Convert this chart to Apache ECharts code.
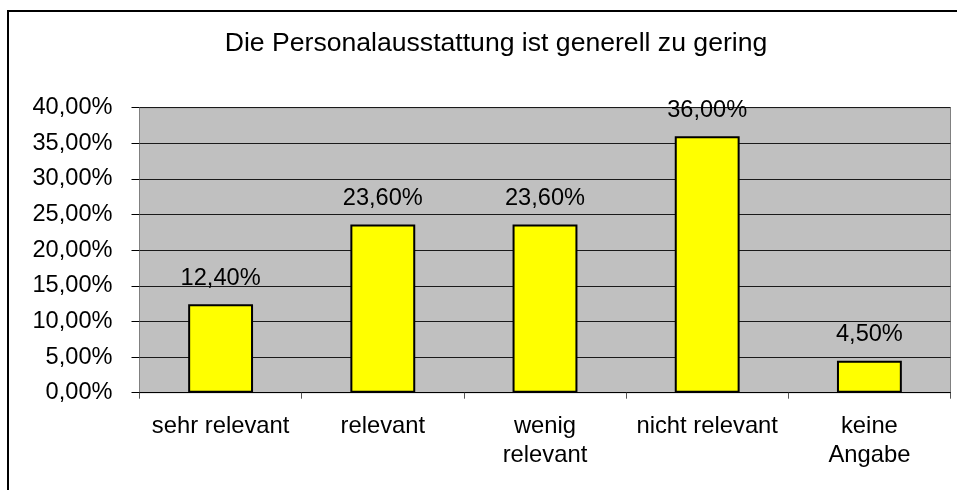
<!DOCTYPE html>
<html>
<head>
<meta charset="utf-8">
<script src="https://cdn.jsdelivr.net/npm/echarts@6/dist/echarts.min.js"></script>
<style>
  html, body { margin: 0; padding: 0; background: #fff; }
  #chart { width: 957px; height: 490px; }
</style>
</head>
<body>
<div id="chart"></div>
<script>
const titleText = "Die Personalausstattung ist generell zu gering";
const categories = ["sehr relevant", "relevant", "wenig\nrelevant", "nicht relevant", "keine\nAngabe"];
const values = [12.4, 23.6, 23.6, 36.0, 4.5];
const yMin = 0;
const yMax = 40;
const yStep = 5;

const font = "Liberation Sans, Arial, sans-serif";

function pct(v) {
  return v.toFixed(2).replace(".", ",") + "%";
}

const chart = echarts.init(document.getElementById("chart"));

chart.setOption({
  animation: false,
  backgroundColor: "#fff",
  textStyle: { fontFamily: font },
  title: {
    text: titleText,
    left: 491,
    top: 25,
    textAlign: "center",
    textStyle: { fontFamily: font, fontSize: 26.6, fontWeight: "normal", color: "#000" },
  },
  graphic: [
    {
      type: "rect",
      z: 100,
      silent: true,
      shape: { x: 8, y: 11, width: 1200, height: 1200 },
      style: { fill: "none", stroke: "#000", lineWidth: 2 },
    },
  ],
  grid: {
    left: 139.5,
    top: 107.7,
    right: 6.5,
    bottom: 97.3,
    show: true,
    backgroundColor: "#C0C0C0",
    borderColor: "#808080",
    borderWidth: 1,
  },
  xAxis: {
    type: "category",
    data: categories,
    axisLine: { lineStyle: { color: "#000", width: 1 } },
    axisTick: { show: true, length: 6, lineStyle: { color: "#555" } },
    axisLabel: {
      interval: 0,
      margin: 19,
      color: "#000",
      fontFamily: font,
      fontSize: 23.8,
      lineHeight: 29,
    },
  },
  yAxis: {
    type: "value",
    min: yMin,
    max: yMax,
    interval: yStep,
    axisLine: { show: true, lineStyle: { color: "#808080" } },
    axisTick: { show: true, length: 8, lineStyle: { color: "#000" } },
    axisLabel: {
      margin: 27,
      color: "#000",
      fontFamily: font,
      fontSize: 23.6,
      formatter: (v) => pct(v),
    },
    splitLine: { lineStyle: { color: "#1a1a1a", width: 1 } },
  },
  series: [
    {
      type: "bar",
      data: values,
      barWidth: "40%",
      itemStyle: { color: "#FFFF00", borderColor: "#000", borderWidth: 2 },
      label: {
        show: true,
        position: "top",
        distance: 14,
        color: "#000",
        fontFamily: font,
        fontSize: 23.6,
        formatter: (p) => pct(p.value),
      },
    },
  ],
});
</script>
</body>
</html>
